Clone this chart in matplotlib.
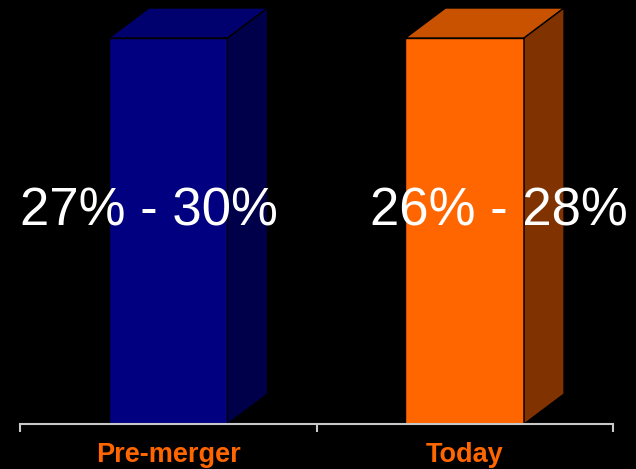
import matplotlib.pyplot as plt
from matplotlib.patches import Polygon

categories = ["Pre-merger", "Today"]
heights = [100, 100]
range_labels = ["27% - 30%", "26% - 28%"]
front_colors = ["#000080", "#FF6600"]
top_colors = ["#00006E", "#C85200"]
side_colors = ["#00004A", "#803300"]
label_x = [-0.065, 1.116]

W, H = 636, 469
fig = plt.figure(figsize=(W / 100, H / 100), dpi=100, facecolor="black")
ax = fig.add_axes([20 / W, 1 - 424 / H, 593 / W, 424 / H])
ax.set_facecolor("black")

ymax = 100 * 424 / 386
ax.set_xlim(-0.5, 1.5)
ax.set_ylim(0, ymax)

# 3D depth offset (40 px right, 30 px up) in data units
dx = 40 / 593 * 2.0
dy = 30 / 424 * ymax
bw = 0.4

for i, h in enumerate(heights):
    x0, x1 = i - bw / 2, i + bw / 2
    ax.add_patch(Polygon([(x0, 0), (x1, 0), (x1, h), (x0, h)], closed=True,
                         facecolor=front_colors[i], edgecolor="black", lw=1, clip_on=False))
    ax.add_patch(Polygon([(x0, h), (x1, h), (x1 + dx, h + dy), (x0 + dx, h + dy)], closed=True,
                         facecolor=top_colors[i], edgecolor="black", lw=1, clip_on=False))
    ax.add_patch(Polygon([(x1, 0), (x1 + dx, dy), (x1 + dx, h + dy), (x1, h)], closed=True,
                         facecolor=side_colors[i], edgecolor="black", lw=1, clip_on=False))
    ax.text(label_x[i], 55.0, range_labels[i], color="white", fontsize=38,
            family="Liberation Sans", ha="center", va="center")

for s in ["top", "right", "left"]:
    ax.spines[s].set_visible(False)
ax.spines["bottom"].set_color("#C8C8C8")
ax.spines["bottom"].set_linewidth(1.5)
ax.set_yticks([])
ax.set_xticks([-0.5, 0.5, 1.5])
ax.set_xticklabels([])
ax.tick_params(axis="x", colors="#C8C8C8", length=6, width=1.5, direction="out")

# category names sit about 31 px under the baseline
for i, c in enumerate(categories):
    ax.text(i, -31 * ymax / 424, c, color="#FF6600", fontsize=19.5, fontweight="bold",
            family="Liberation Sans", ha="center", va="center")

fig.savefig("out.png", dpi=100, facecolor="black")
